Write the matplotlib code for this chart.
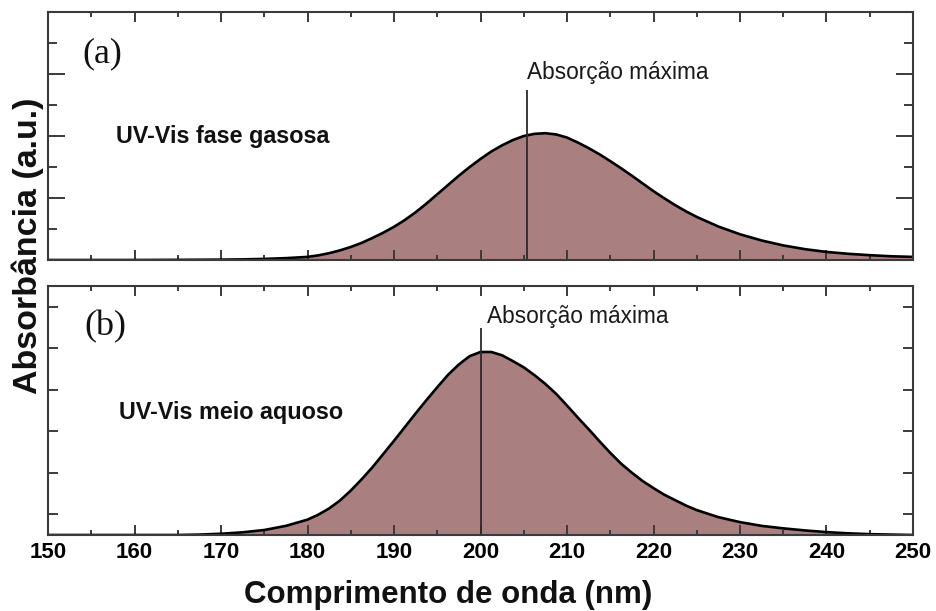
import matplotlib
matplotlib.use("Agg")
import matplotlib.pyplot as plt
from matplotlib import font_manager
from matplotlib.ticker import MultipleLocator, FixedLocator, NullFormatter

# ---------------- data ----------------
wl_gas = [150, 160, 165, 170, 172.5, 175, 177.5, 180, 181.25, 182.5, 183.75, 185,
          186.25, 187.5, 188.75, 190, 191.25, 192.5, 193.75, 195, 196.25, 197.5,
          198.75, 200, 201.25, 202.5, 203.75, 205, 206.25, 207.5, 208.75, 210,
          211.25, 212.5, 213.75, 215, 216.25, 217.5, 218.75, 220, 221.25, 222.5,
          223.75, 225, 227.5, 230, 232.5, 235, 237.5, 240, 242.5, 245, 247.5, 250]
abs_gas = [0.0, 0.0, 0.005, 0.012, 0.02, 0.035, 0.06, 0.1, 0.15, 0.22, 0.31, 0.42,
           0.55, 0.71, 0.88, 1.07, 1.29, 1.54, 1.82, 2.12, 2.42, 2.72,
           3.0, 3.26, 3.5, 3.7, 3.87, 4.0, 4.07, 4.09, 4.05, 3.95,
           3.79, 3.61, 3.41, 3.19, 2.96, 2.72, 2.47, 2.22, 1.99, 1.77,
           1.57, 1.39, 1.08, 0.83, 0.63, 0.47, 0.35, 0.26, 0.2, 0.155, 0.12, 0.1]

wl_aq = [150, 160, 165, 167.5, 170, 172.5, 175, 177.5, 180, 181.25, 182.5, 183.75,
         185, 186.25, 187.5, 188.75, 190, 191.25, 192.5, 193.75, 195, 196.25, 197.5,
         198.75, 200, 201.25, 202.5, 203.75, 205, 206.25, 207.5, 208.75, 210,
         211.25, 212.5, 213.75, 215, 216.25, 217.5, 218.75, 220, 221.25, 222.5,
         223.75, 225, 227.5, 230, 232.5, 235, 237.5, 240, 242.5, 245, 247.5, 250]
abs_aq = [0.0, 0.0, 0.0, 0.01, 0.03, 0.065, 0.12, 0.22, 0.37, 0.49, 0.64, 0.83,
          1.07, 1.34, 1.63, 1.95, 2.27, 2.6, 2.93, 3.25, 3.56, 3.86, 4.11,
          4.31, 4.41, 4.41, 4.33, 4.19, 4.04, 3.85, 3.64, 3.4, 3.12,
          2.83, 2.55, 2.26, 1.98, 1.72, 1.5, 1.3, 1.13, 0.97, 0.84,
          0.71, 0.6, 0.43, 0.31, 0.22, 0.16, 0.11, 0.07, 0.04, 0.02, 0.01, 0.0]

peak_gas = 205.4
peak_aq = 200.0
xticks = [150, 160, 170, 180, 190, 200, 210, 220, 230, 240, 250]
panel_labels = ["(a)", "(b)"]
panel_titles = ["UV-Vis fase gasosa", "UV-Vis meio aquoso"]
peak_text = "Absorção máxima"
xlabel = "Comprimento de onda (nm)"
ylabel = "Absorbância (a.u.)"

# ---------------- style ----------------
names = {f.name for f in font_manager.fontManager.ttflist}
if "Liberation Sans Narrow" in names:
    narrow = "Liberation Sans Narrow"
    ann_size = 19.5
else:
    narrow = "Liberation Sans"
    ann_size = 16.3
sans = "Liberation Sans"
serif = "Liberation Serif"
fill_c = "#a97f7f"
spine_c = "#3a3a3a"

W, H = 937, 611
fig = plt.figure(figsize=(W / 100, H / 100), dpi=100)

def rect(l, t, r, b):
    return [l / W, 1 - b / H, (r - l) / W, (b - t) / H]

ax_a = fig.add_axes(rect(48, 12, 913, 260))
ax_b = fig.add_axes(rect(48, 286, 913, 535))

for ax, wl, ab, ymax in [(ax_a, wl_gas, abs_gas, 8), (ax_b, wl_aq, abs_aq, 6)]:
    ax.fill_between(wl, ab, 0, color=fill_c, linewidth=0, zorder=1)
    ax.plot(wl, ab, color="black", lw=1.9, zorder=3, solid_capstyle="round",
            solid_joinstyle="round")
    ax.set_xlim(150, 250)
    ax.set_ylim(0, ymax)
    for s in ax.spines.values():
        s.set_color(spine_c)
        s.set_linewidth(1.5)
        s.set_zorder(5)
    ax.xaxis.set_major_locator(FixedLocator(xticks))
    ax.xaxis.set_minor_locator(MultipleLocator(5))
    ax.tick_params(axis="x", which="major", direction="in", length=7, width=1.4,
                   color=spine_c, top=True, bottom=True)
    ax.tick_params(axis="x", which="minor", direction="in", length=3.5, width=1.4,
                   color=spine_c, top=True, bottom=True)
    ax.tick_params(axis="y", which="both", direction="in", width=1.4,
                   color=spine_c, left=True, right=True, labelleft=False)

ax_a.xaxis.set_major_formatter(NullFormatter())
ax_a.yaxis.set_major_locator(FixedLocator([2, 4, 6]))
ax_a.yaxis.set_minor_locator(FixedLocator([1, 3, 5, 7]))
ax_a.tick_params(axis="y", which="major", length=12)
ax_a.tick_params(axis="y", which="minor", length=6.5)

ax_b.yaxis.set_major_locator(FixedLocator([0.5, 1.5, 2.5, 3.5, 4.5, 5.5]))
ax_b.yaxis.set_minor_locator(FixedLocator([]))
ax_b.tick_params(axis="y", which="major", length=7)
ax_b.tick_params(axis="x", which="major", labelsize=16, pad=5)
for lab in ax_b.get_xticklabels():
    lab.set_fontfamily(sans)
    lab.set_fontweight("bold")

# peak markers
ax_a.vlines(peak_gas, 0, 5.48, color="#2a2a2a", lw=1.3, zorder=4)
ax_a.text(peak_gas, 6.05, peak_text, fontsize=ann_size, family=narrow,
          color="#1a1a1a", ha="left", va="center")
ax_b.vlines(peak_aq, 0, 5.0, color="#2a2a2a", lw=1.3, zorder=4)
ax_b.text(peak_aq + 0.7, 5.26, peak_text, fontsize=ann_size, family=narrow,
          color="#1a1a1a", ha="left", va="center")

# panel labels and titles
ax_a.text(0.04, 0.83, panel_labels[0], transform=ax_a.transAxes, fontsize=26,
          family=serif, ha="left", va="center", color="#111111")
ax_b.text(0.042, 0.835, panel_labels[1], transform=ax_b.transAxes, fontsize=26,
          family=serif, ha="left", va="center", color="#111111")
ax_a.text(0.079, 0.5, panel_titles[0], transform=ax_a.transAxes, fontsize=16.8,
          family=sans, fontweight="bold", ha="left", va="center", color="#111111")
ax_b.text(0.082, 0.49, panel_titles[1], transform=ax_b.transAxes, fontsize=16.8,
          family=sans, fontweight="bold", ha="left", va="center", color="#111111")

# axis labels
fig.text(28 / W, 1 - 246 / H, ylabel, rotation=90, fontsize=24.5, family=sans,
         fontweight="bold", ha="center", va="center", color="#111111")
fig.text(448 / W, 1 - 595 / H, xlabel, fontsize=22.5, family=sans,
         fontweight="bold", ha="center", va="center", color="#111111")

fig.savefig("out.png", dpi=100)
